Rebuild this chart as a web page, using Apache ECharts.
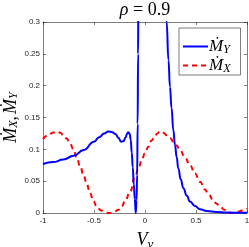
<!DOCTYPE html>
<html><head><meta charset="utf-8">
<script src="https://cdn.jsdelivr.net/npm/echarts@6/dist/echarts.min.js"></script>
<style>html,body{margin:0;padding:0;background:#fff}#c{width:249px;height:247px}</style>
</head><body><div id="c"></div>
<script>
// M_Y (blue, solid)
const blueX = [-1.0,-0.9,-0.8,-0.7,-0.6,-0.5,-0.45,-0.4,-0.36,-0.32,-0.29,-0.26,-0.235,-0.21,-0.19,-0.175,-0.163,-0.15,-0.14,-0.13,-0.12,-0.11,-0.1,-0.091,-0.083,-0.077,-0.072,-0.068,-0.065,-0.06,0.15,0.18,0.2,0.212,0.23,0.245,0.26,0.278,0.294,0.31,0.327,0.35,0.376,0.41,0.441,0.49,0.539,0.605,0.7,0.8,0.9,1.0];
const blueY = [0.077,0.080,0.084,0.090,0.099,0.112,0.119,0.125,0.128,0.127,0.124,0.118,0.112,0.113,0.119,0.125,0.127,0.124,0.115,0.095,0.072,0.045,0.022,0.0,0.02,0.06,0.14,0.25,0.33,0.5,0.8,0.45,0.34,0.30,0.24,0.198,0.165,0.13,0.107,0.088,0.070,0.053,0.039,0.027,0.018,0.011,0.006,0.003,0.0015,0.0007,0.0004,0.0003];
// M_X (red, dashed)
const redX = [-1.0,-0.95,-0.9,-0.866,-0.83,-0.8,-0.768,-0.735,-0.703,-0.67,-0.637,-0.6,-0.572,-0.54,-0.507,-0.47,-0.43,-0.39,-0.343,-0.3,-0.26,-0.23,-0.196,-0.147,-0.098,-0.06,-0.033,0.0,0.033,0.065,0.092,0.12,0.147,0.18,0.215,0.245,0.28,0.31,0.343,0.39,0.441,0.49,0.539,0.588,0.621,0.67,0.7,0.735,0.78,0.817,0.85,0.88,0.915,0.95,0.98,1.0];
const redY = [0.116,0.122,0.1265,0.128,0.126,0.122,0.117,0.109,0.1005,0.088,0.074,0.058,0.046,0.032,0.019,0.009,0.004,0.001,0.0,0.002,0.005,0.010,0.018,0.033,0.057,0.072,0.083,0.094,0.104,0.114,0.119,0.125,0.128,0.126,0.122,0.118,0.112,0.106,0.099,0.088,0.075,0.062,0.049,0.037,0.030,0.020,0.015,0.010,0.005,0.002,0.0,0.0005,0.002,0.004,0.006,0.007];
const xTicks = [-1,-0.5,0,0.5,1];
const yTicks = [0,0.05,0.1,0.15,0.2,0.25,0.3];

const zip = (a,b)=>a.map((v,i)=>[v,b[i]]);
const serif = 'Liberation Serif';
const axCol = '#262626';
const chart = echarts.init(document.getElementById('c'));
const mk = (main, sub, pad) => ({
  m:{fontFamily:serif,fontStyle:'italic',fontWeight:'normal',fontSize:main,color:'#000'},
  s:{fontFamily:serif,fontStyle:'italic',fontWeight:'normal',fontSize:sub,color:'#000',padding:[pad,0,0,0]},
  c:{fontFamily:serif,fontWeight:'normal',fontSize:main,color:'#000',padding:[0,2,0,0]}
});
const axLine = {show:true,onZero:false,lineStyle:{color:axCol,width:0.6}};
const axTick = {inside:true,length:3,lineStyle:{color:axCol,width:0.6}};
chart.setOption({
  animation:false,
  title:{text:'{i|ρ}{n| = 0.9}',left:145,textAlign:'center',top:0,padding:[1,0,0,0],
    textStyle:{rich:{i:{fontFamily:serif,fontStyle:'italic',fontWeight:'normal',fontSize:18,color:'#000'},n:{fontFamily:serif,fontWeight:'normal',fontSize:18,color:'#000'}}}},
  legend:{left:179,top:28,orient:'vertical',itemWidth:25,itemHeight:12,itemGap:1,
    padding:[10,10,0,3],borderColor:axCol,borderWidth:0.6,backgroundColor:'#fff',
    itemStyle:{opacity:0},
    data:['MY','MX'],
    formatter:n=>n==='MY'?'{m|Ṁ}{s|Y}':'{m|Ṁ}{s|X}',
    textStyle:{rich:mk(17,12,7),padding:[0,0,0,-4]}},
  grid:{left:43,right:2,top:22,bottom:34,containLabel:false,outerBoundsMode:'none'},
  xAxis:[{type:'value',min:-1,max:1,interval:0.5,position:'bottom',
    name:'{m|V}{s|y}',nameLocation:'middle',nameGap:17,nameTextStyle:{rich:mk(18,13,8)},
    axisLine:axLine,axisTick:axTick,
    axisLabel:{fontFamily:'Liberation Sans',fontSize:8,color:axCol,margin:4,formatter:v=>xTicks.includes(v)?String(v):''},splitLine:{show:false}},
   {type:'value',min:-1,max:1,interval:0.5,position:'top',
    axisLine:axLine,axisTick:axTick,axisLabel:{show:false},splitLine:{show:false}}],
  yAxis:[{type:'value',min:0,max:0.3,interval:0.05,position:'left',
    name:'{m|Ṁ}{s|X}{c|,}{m|Ṁ}{s|Y}',nameLocation:'middle',nameGap:23,nameMoveOverlap:false,nameTextStyle:{rich:mk(18,12,6)},
    axisLine:axLine,axisTick:axTick,
    axisLabel:{fontFamily:'Liberation Sans',fontSize:8,color:axCol,margin:3,formatter:v=>{const t=yTicks.find(k=>Math.abs(k-v)<1e-9);return t===undefined?'':String(t);}},splitLine:{show:false}},
   {type:'value',min:0,max:0.3,interval:0.05,position:'right',
    axisLine:axLine,axisTick:axTick,axisLabel:{show:false},splitLine:{show:false}}],
  series:[
    {name:'MY',type:'line',data:zip(blueX,blueY),symbol:'none',smooth:0.5,smoothMonotone:'x',clip:true,
      lineStyle:{color:'#0000ff',width:2},itemStyle:{color:'#0000ff'},z:3},
    {name:'MX',type:'line',data:zip(redX,redY),symbol:'none',smooth:0.5,smoothMonotone:'x',clip:true,
      lineStyle:{color:'#ff0000',width:2,type:[5,4]},itemStyle:{color:'#ff0000'},z:2}
  ]
});
</script></body></html>
